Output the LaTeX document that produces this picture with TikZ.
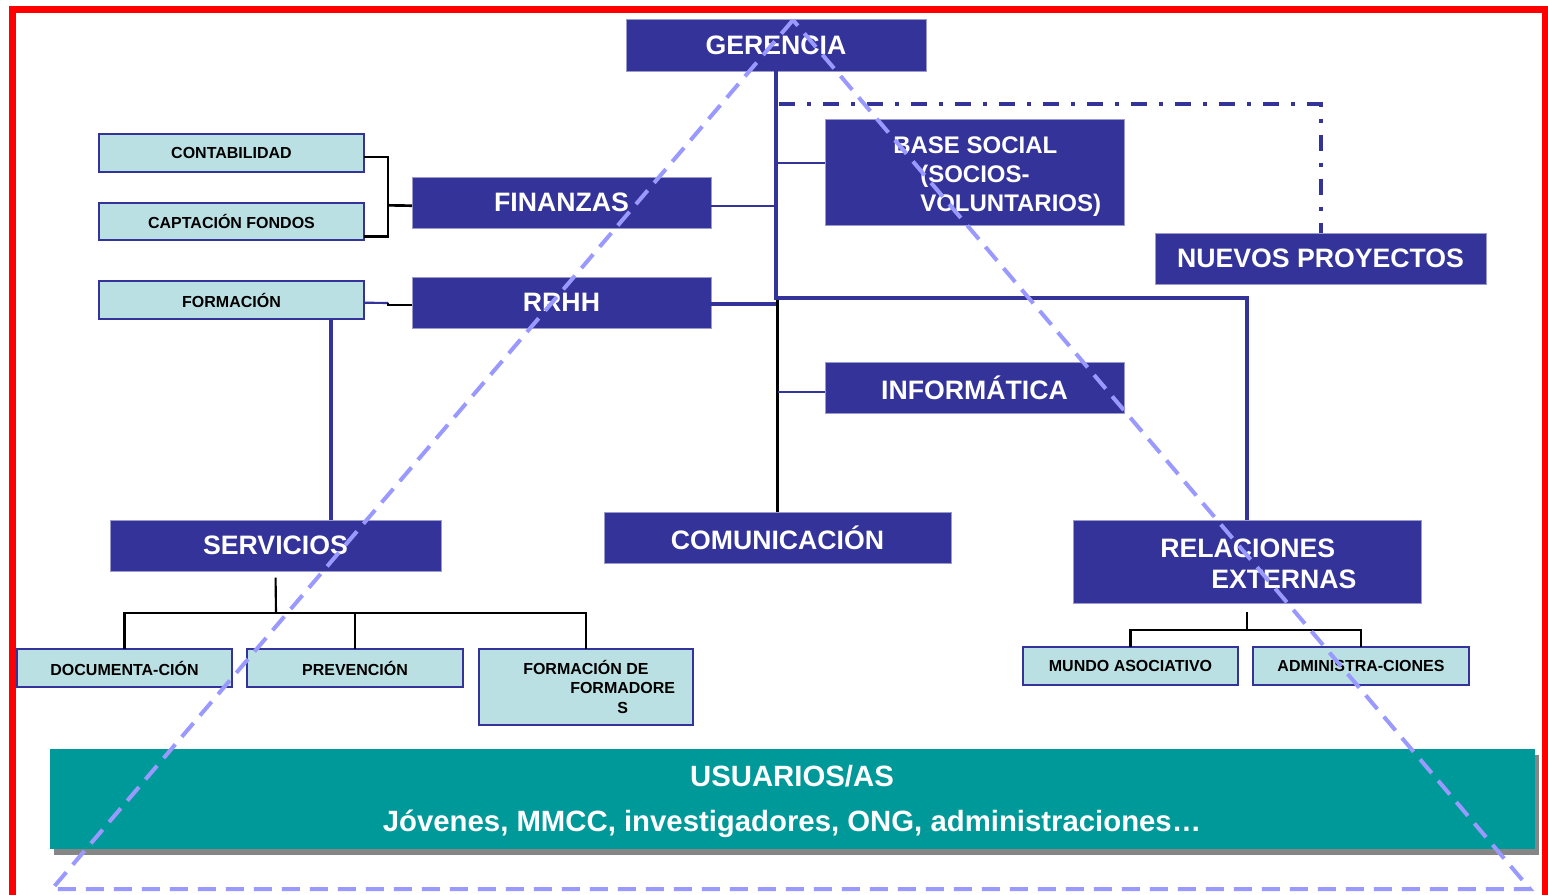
\documentclass[tikz,border=0pt]{standalone}
\usepackage{fontspec}
\setmainfont{Liberation Sans}
\usetikzlibrary{calc,shadows}
\definecolor{dblue}{HTML}{333399}
\definecolor{lcyan}{HTML}{BBE0E3}
\definecolor{tealbg}{HTML}{009999}
\definecolor{tri}{HTML}{9999FF}
\definecolor{edgeb}{HTML}{9A9ACD}
\definecolor{shad}{HTML}{868686}
\newcommand\mybox[7]{%
  \pgfmathsetmacro\bw{(#4-#2)*0.75}%
  \pgfmathsetmacro\bh{(#5-#3)*0.75}%
  \node[#6, minimum width=\bw pt, minimum height=\bh pt] (#1) at ({(#2+#4)/2},{(#3+#5)/2}) {#7};}
\tikzset{
  bigbox/.style={fill=dblue, draw=edgeb, line width=0.75pt, text=white,
    font=\bfseries\fontsize{20}{24}\selectfont, inner sep=0pt, outer sep=0pt},
  smallbox/.style={fill=lcyan, draw=dblue, line width=1.5pt, text=black,
    font=\bfseries\fontsize{12}{14.5}\selectfont, inner sep=0pt, outer sep=0pt},
  tealbox/.style={fill=tealbg, draw=none, inner sep=0pt, outer sep=0pt,
    drop shadow={shadow xshift=3pt, shadow yshift=-4.5pt, fill=shad, opacity=1}},
  wtxt/.style={text=white, inner sep=0pt, font=\bfseries\fontsize{20}{24}\selectfont},
  wtxtm/.style={text=white, inner sep=0pt, font=\bfseries\fontsize{18}{21}\selectfont},
  wtxtl/.style={text=white, inner sep=0pt, font=\bfseries\fontsize{22}{26}\selectfont},
  btxt/.style={text=black, inner sep=0pt, font=\bfseries\fontsize{12}{14.5}\selectfont},
  thickb/.style={dblue, line width=3.2pt},
  thinb/.style={dblue, line width=1.6pt},
  blk/.style={black, line width=1.6pt},
  dashdotline/.style={dblue, line width=3pt, dash pattern=on 12pt off 9pt on 3pt off 9pt},
  triline/.style={tri, line width=3pt, dash pattern=on 13.5pt off 7.5pt},
  redframe/.style={red, line width=5.25pt}
}
\begin{document}
\begin{tikzpicture}[x=0.75pt, y=-0.75pt]
\useasboundingbox (0,0) rectangle (1548,894);
\fill[white] (0,0) rectangle (1548,894);

% boxes
\mybox{ger}{626}{19}{926}{71}{bigbox}{GERENCIA}
\mybox{cont}{99}{134}{364}{172}{smallbox}{CONTABILIDAD}
\mybox{capt}{99}{203}{364}{240}{smallbox}{CAPTACIÓN FONDOS}
\mybox{form}{99}{281}{364}{319}{smallbox}{FORMACIÓN}
\mybox{fin}{412}{177}{711}{228}{bigbox}{FINANZAS}
\mybox{rrhh}{412}{277}{711}{328}{bigbox}{RRHH}
\mybox{base}{825}{119}{1124}{225}{bigbox}{}
\mybox{nue}{1155}{233}{1486}{284}{bigbox}{NUEVOS PROYECTOS}
\mybox{inf}{825}{362}{1124}{413}{bigbox}{INFORMÁTICA}
\mybox{serv}{110}{520}{441}{571}{bigbox}{SERVICIOS}
\mybox{com}{604}{512}{951}{563}{bigbox}{COMUNICACIÓN}
\mybox{rel}{1073}{520}{1421}{603}{bigbox}{}
\mybox{doc}{17}{649}{232}{687}{smallbox}{DOCUMENTA-CIÓN}
\mybox{prev}{247}{649}{463}{687}{smallbox}{PREVENCIÓN}
\mybox{ff}{479}{649}{693}{725}{smallbox}{}
\mybox{mundo}{1023}{647}{1238}{685}{smallbox}{MUNDO ASOCIATIVO}
\mybox{adm}{1253}{647}{1469}{685}{smallbox}{ADMINISTRA-CIONES}
\mybox{usr}{50}{749}{1535}{849}{tealbox}{}

% multi-line texts
\node[wtxtm, anchor=base west] (bs1) at (893,153) {BASE SOCIAL};
\node[wtxtm, anchor=base west] (bs2) at (920,182) {(SOCIOS-};
\node[wtxtm, anchor=base west] (bs3) at (920,211) {VOLUNTARIOS)};
\node[wtxt, anchor=base west] (re1) at (1160,557) {RELACIONES};
\node[wtxt, anchor=base west] (re2) at (1211,588) {EXTERNAS};
\node[btxt, anchor=base west] (ff1) at (523,674) {FORMACIÓN DE};
\node[btxt, anchor=base west] (ff2) at (570,693.5) {FORMADORE};
\node[btxt, anchor=base west] (ff3) at (617,713) {S};
\node[wtxtl] (us1) at (792,776) {USUARIOS/AS};
\node[wtxtl] (us2) at (792,823.5) {Jóvenes, MMCC, investigadores, ONG, administraciones…};

% junction coordinates
\coordinate (j1) at (776,300);
\coordinate (j2) at (776,298);
\coordinate (j3) at (779,104);
\coordinate (jf) at (388.3,205.3);
\coordinate (jr) at (388.3,303);
\coordinate (sj) at (276,613);
\coordinate (rj) at (1247,630);

% connectors
\draw[thickb] (ger.south) -- (j1);
\draw[blk] (com.north) -- ++(0,-212);
\draw[thinb] ([yshift=-2.4pt]fin.east) -- ++(65,0);
\draw[thickb] ([yshift=-1.1pt]rrhh.east) -- ++(65,0);
\draw[thinb] ([yshift=7pt]base.west) -- ++(-49,0);
\draw[thinb] ([yshift=-3.1pt]inf.west) -- ++(-47,0);
\draw[thickb] (rel.north) |- (j2);
\draw[dashdotline] (j3) -| (nue.north);

\draw[blk] ([yshift=-2.8pt]cont.east) -| (jf) |- ([yshift=-11.25pt]capt.east);
\draw[blk, line width=2pt] (jf) -- ([yshift=-2.4pt]fin.west);
\draw[thinb] ([yshift=-2pt]form.east) -- (jr);
\draw[blk] (jr) |- ([yshift=-1.9pt]rrhh.west);
\draw[thickb] ($(form.south)+(99.2,0)$) -- ++(0,201);

\draw[blk, shorten >=5pt] (sj) -- (serv.south);
\draw[blk] (doc.north) |- (sj) -| (ff.north);
\draw[blk] (prev.north) -- (prev.north |- sj);
\draw[blk, shorten >=6.5pt] (rj) -- (rel.south);
\draw[blk] (mundo.north) |- (rj) -| (adm.north);

% triangle
\coordinate (ta) at (793,20);
\coordinate (tl) at (52,889);
\coordinate (tr) at (1530,889);
\draw[triline] (ta) -- (tl) -- (tr) -- cycle;

% frame
\draw[redframe] (12.5,9.7) rectangle (1545,899);
\end{tikzpicture}
\end{document}
